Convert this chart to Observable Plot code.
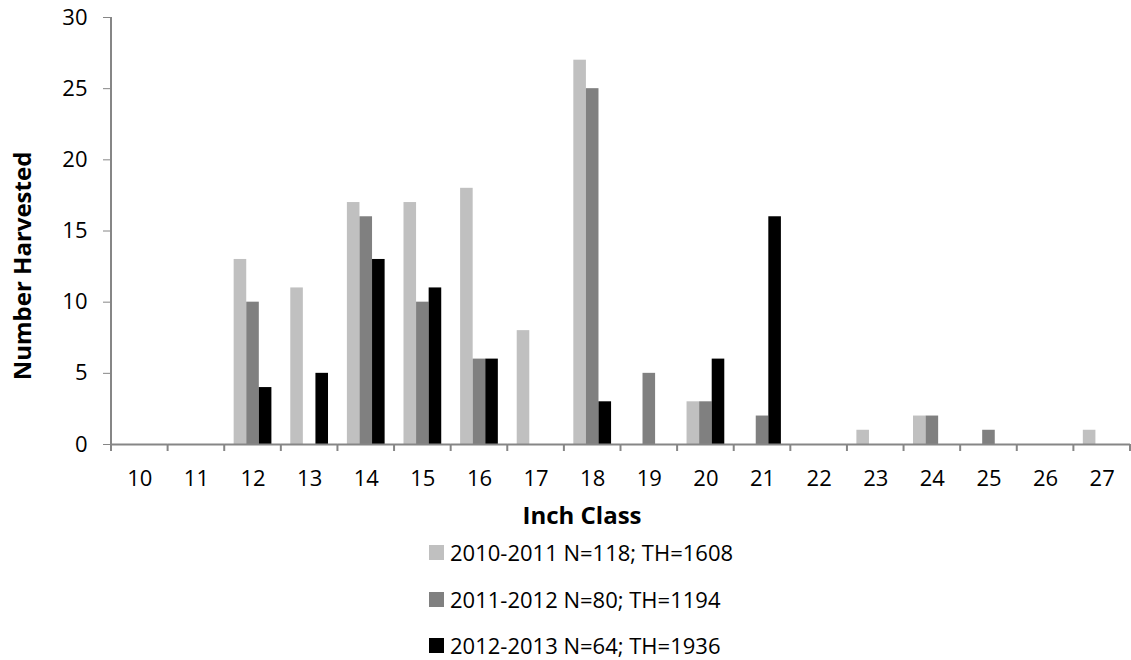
<!DOCTYPE html>
<html>
<head>
<meta charset="utf-8">
<script src="https://cdn.jsdelivr.net/npm/d3@7"></script>
<script src="https://cdn.jsdelivr.net/npm/@observablehq/plot@0.6"></script>
<style>
  body { margin: 0; background: #fff; }
  #wrap { position: relative; width: 1131px; height: 660px; font-family: "Open Sans", sans-serif; color: #000; overflow: hidden; }
  #wrap svg { display: block; }
  .ytitle { position: absolute; left: 22px; top: 266px; transform: translate(-50%, -50%) rotate(-90deg); font-weight: bold; font-size: 24px; white-space: nowrap; line-height: 1; }
  .xtitle { position: absolute; left: 582px; top: 515px; transform: translate(-50%, -50%); font-weight: bold; font-size: 24px; white-space: nowrap; line-height: 1; }
  .legend { position: absolute; left: 429px; top: 0; }
  .legend .row { position: absolute; left: 0; display: flex; align-items: center; white-space: nowrap; font-size: 22px; line-height: 1; transform: translateY(-50%); }
  .legend .sw { width: 15px; height: 15px; margin-right: 6px; flex: none; }
</style>
</head>
<body>
<div id="wrap"></div>
<script>
const inchClasses = ["10","11","12","13","14","15","16","17","18","19","20","21","22","23","24","25","26","27"];
const seriesNames = ["2010-2011 N=118; TH=1608", "2011-2012 N=80; TH=1194", "2012-2013 N=64; TH=1936"];
const seriesColors = ["#c0c0c0", "#808080", "#000000"];
const counts2010 = [0, 0, 13, 11, 17, 17, 18, 8, 27, 0, 3, 0, 0, 1, 2, 0, 0, 1];
const counts2011 = [0, 0, 10, 0, 16, 10, 6, 0, 25, 5, 3, 2, 0, 0, 2, 1, 0, 0];
const counts2012 = [0, 0, 4, 5, 13, 11, 6, 0, 3, 0, 6, 16, 0, 0, 0, 0, 0, 0];
const yTicks = [0, 5, 10, 15, 20, 25, 30];
const xTitle = "Inch Class";
const yTitle = "Number Harvested";

const allCounts = [counts2010, counts2011, counts2012];
const data = [];
inchClasses.forEach((c, i) => {
  seriesNames.forEach((s, j) => {
    data.push({inch: c, series: s, count: allCounts[j][i]});
  });
});

const axisGray = "#868686";

const plot = Plot.plot({
  width: 1131,
  height: 535,
  marginLeft: 111,
  marginRight: 1,
  marginTop: 17,
  marginBottom: 91,
  style: {fontFamily: '"Open Sans", sans-serif', fontSize: "22px", color: "#000", background: "transparent"},
  fx: {domain: inchClasses, padding: 0, round: false, label: null},
  x: {domain: seriesNames, paddingInner: 0, paddingOuter: 0.75, round: false, axis: null},
  y: {domain: [0, 30], label: null},
  color: {domain: seriesNames, range: seriesColors},
  marks: [
    Plot.barY(data, {fx: "inch", x: "series", y: "count", fill: "series"}),
    Plot.ruleY([0], {stroke: axisGray, strokeWidth: 2}),
    Plot.axisY({ticks: yTicks, tickSize: 8, tickPadding: 16, stroke: axisGray, label: null}),
    Plot.axisFx({anchor: "bottom", tickSize: 0, tickPadding: 26, label: null})
  ]
});

// Axis line on the left and category-boundary ticks, from the plot's scales
const fx = plot.scale("fx");
const y = plot.scale("y");
const svg = d3.select(plot);
const g = svg.append("g").attr("stroke", axisGray).attr("stroke-width", 2);
const x0 = fx.apply(inchClasses[0]);
g.append("line").attr("x1", x0).attr("x2", x0).attr("y1", y.apply(30)).attr("y2", y.apply(0));
const bw = fx.bandwidth;
const bounds = inchClasses.map(c => fx.apply(c)).concat([fx.apply(inchClasses[inchClasses.length - 1]) + bw]);
bounds.forEach(b => {
  g.append("line").attr("x1", b).attr("x2", b).attr("y1", y.apply(0)).attr("y2", y.apply(0) + 7);
});

const wrap = document.getElementById("wrap");
wrap.appendChild(plot);

const yt = document.createElement("div");
yt.className = "ytitle"; yt.textContent = yTitle; wrap.appendChild(yt);
const xt = document.createElement("div");
xt.className = "xtitle"; xt.textContent = xTitle; wrap.appendChild(xt);

const legend = document.createElement("div");
legend.className = "legend";
const rowY = [552, 599, 645];
seriesNames.forEach((s, i) => {
  const row = document.createElement("div");
  row.className = "row";
  row.style.top = rowY[i] + "px";
  const sw = document.createElement("span");
  sw.className = "sw"; sw.style.background = seriesColors[i];
  const t = document.createElement("span");
  t.textContent = s;
  row.appendChild(sw); row.appendChild(t);
  legend.appendChild(row);
});
wrap.appendChild(legend);
</script>
</body>
</html>
